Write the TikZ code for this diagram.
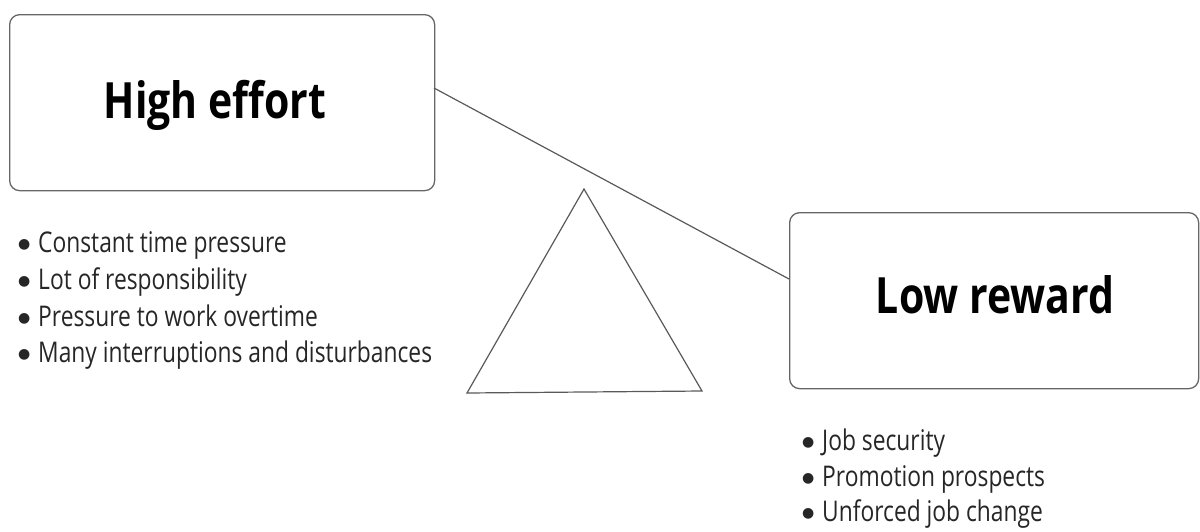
\documentclass[tikz,border=0pt]{standalone}
\usepackage{fontspec}
\setmainfont{Open Sans}
\newfontfamily\titlefont[FakeStretch=0.82]{Open Sans Bold}
\newfontfamily\listfont[FakeStretch=0.80]{Open Sans}
\newfontfamily\bulfont{DejaVu Sans}
\newcommand\mybul{\makebox[20pt][l]{\raisebox{4pt}{\bulfont\fontsize{14}{14}\selectfont ●}}}
\begin{document}
\begin{tikzpicture}[x=1pt,y=-1pt,
  box/.style={draw=black!60,line width=1.3pt,rounded corners=10pt,fill=white},
  title/.style={font=\titlefont\fontsize{50}{50}\selectfont,text=black,anchor=base,inner sep=0pt},
  lst/.style={font=\listfont\fontsize{28.5}{28.5}\selectfont,text=black!85,inner sep=0pt,anchor=base west},
  conn/.style={draw=black!65,line width=1.2pt}]
\useasboundingbox (0,0) rectangle (1200,531);
\node[box,minimum width=425pt,minimum height=176pt,anchor=north west] (he) at (9,14) {};
\node[title] (het) at (215,118) {High effort};
\node[box,minimum width=409pt,minimum height=176pt,anchor=north west] (lr) at (789,212) {};
\node[title] (lrt) at (995,313) {Low reward};
\coordinate (l1) at (434,88);
\coordinate (l2) at (789,279);
\draw[conn] (l1) -- (l2);
\coordinate (ta) at (584,189);
\coordinate (tb) at (467,393);
\coordinate (tc) at (702,391);
\draw[conn,line join=miter] (ta) -- (tb) -- (tc) -- cycle;
\node[lst] (e1) at (18,252) {\mybul Constant time pressure};
\node[lst] (e2) at (18,289) {\mybul Lot of responsibility};
\node[lst] (e3) at (18,326) {\mybul Pressure to work overtime};
\node[lst] (e4) at (18,362) {\mybul Many interruptions and disturbances};
\node[lst] (r1) at (802,450) {\mybul Job security};
\node[lst] (r2) at (802,486) {\mybul Promotion prospects};
\node[lst] (r3) at (802,521) {\mybul Unforced job change};
\end{tikzpicture}
\end{document}
